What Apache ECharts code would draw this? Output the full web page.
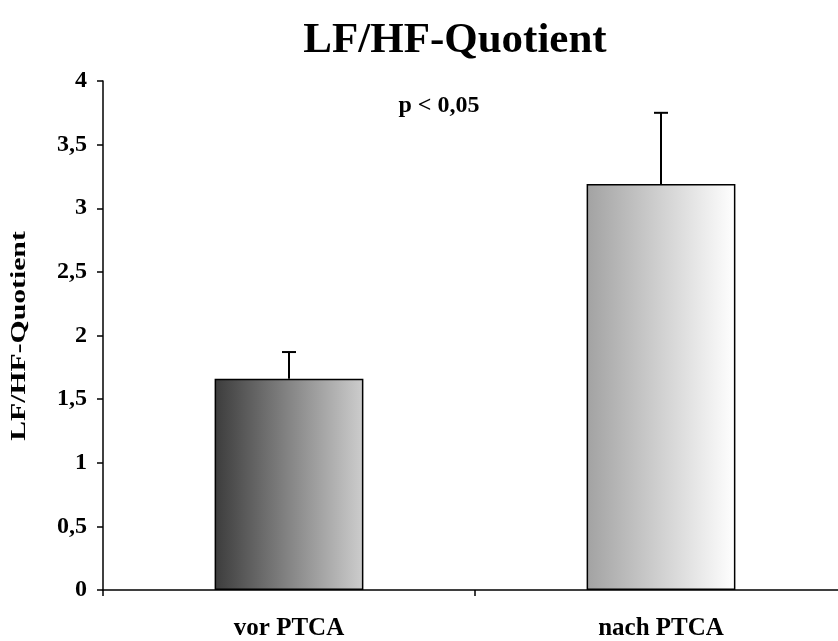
<!DOCTYPE html>
<html>
<head>
<meta charset="utf-8">
<script src="https://cdn.jsdelivr.net/npm/echarts@6/dist/echarts.min.js"></script>
<style>
  html, body { margin: 0; padding: 0; background: #ffffff; overflow: hidden; }
  /* the category axis runs slightly past the right edge of the window */
  #chart { width: 848px; height: 641px; }
</style>
</head>
<body>
<div id="chart"></div>
<script>
// Mean LF/HF ratio before and after PTCA, with the upper error bar
var categories = ['vor PTCA', 'nach PTCA'];
var means = [1.66, 3.19];
var errors = [0.21, 0.56];
var yTicks = [0, 0.5, 1, 1.5, 2, 2.5, 3, 3.5, 4];

// Horizontal grey shading for each bar
var barGradients = [
  ['#3c3c3c', '#cdcdcd'],
  ['#a2a2a2', '#ffffff']
];

var FONT = '"Liberation Serif", "Times New Roman", serif';

var chart = echarts.init(document.getElementById('chart'), null, { renderer: 'canvas' });

var barData = means.map(function (v, i) {
  return {
    value: v,
    itemStyle: {
      color: new echarts.graphic.LinearGradient(0, 0, 1, 0, [
        { offset: 0, color: barGradients[i][0] },
        { offset: 1, color: barGradients[i][1] }
      ]),
      borderColor: '#000000',
      borderWidth: 1.5
    }
  };
});

var errData = means.map(function (v, i) { return [i, v, v + errors[i]]; });

chart.setOption({
  animation: false,
  backgroundColor: '#ffffff',
  title: [
    {
      text: 'LF/HF-Quotient',
      left: 450,
      top: 14,
      textAlign: 'center',
      textStyle: { fontFamily: FONT, fontWeight: 'bold', fontSize: 43, color: '#000' }
    },
    {
      text: 'p < 0,05',
      left: 434,
      top: 89,
      textAlign: 'center',
      textStyle: { fontFamily: FONT, fontWeight: 'bold', fontSize: 24, color: '#000' }
    }
  ],
  // vertical axis title, stretched along its length
  graphic: [
    {
      type: 'text',
      x: 19,
      y: 336,
      rotation: Math.PI / 2,
      scaleX: 1.35,
      style: {
        text: 'LF/HF-Quotient',
        fill: '#000',
        font: 'bold 22px ' + FONT,
        align: 'center',
        verticalAlign: 'middle',
        textAlign: 'center',
        textVerticalAlign: 'middle'
      }
    }
  ],
  grid: { left: 103, right: 1, top: 81, bottom: 51, containLabel: false },
  xAxis: {
    type: 'category',
    data: categories,
    boundaryGap: true,
    axisLine: { lineStyle: { color: '#000', width: 1.5 } },
    axisTick: { show: true, length: 6, lineStyle: { color: '#000', width: 1.5 } },
    axisLabel: {
      margin: 26,
      fontFamily: FONT, fontWeight: 'bold', fontSize: 25, color: '#000'
    },
    splitLine: { show: false }
  },
  yAxis: {
    type: 'value',
    min: yTicks[0],
    max: yTicks[yTicks.length - 1],
    interval: yTicks[1] - yTicks[0],
    axisLine: { show: true, lineStyle: { color: '#000', width: 1.5 } },
    axisTick: { show: true, inside: false, length: 6, lineStyle: { color: '#000', width: 1.5 } },
    axisLabel: {
      margin: 16,
      fontFamily: FONT, fontWeight: 'bold', fontSize: 24, color: '#000',
      formatter: function (v) { return String(v).replace('.', ','); }
    },
    splitLine: { show: false }
  },
  series: [
    {
      type: 'bar',
      data: barData,
      barWidth: '40%',
      z: 2
    },
    {
      type: 'custom',
      data: errData,
      z: 3,
      renderItem: function (params, api) {
        var x = api.value(0);
        var base = api.coord([x, api.value(1)]);
        var top = api.coord([x, api.value(2)]);
        var half = 7;
        var style = { stroke: '#000', lineWidth: 2 };
        return {
          type: 'group',
          children: [
            { type: 'line', shape: { x1: base[0], y1: base[1], x2: top[0], y2: top[1] }, style: style },
            { type: 'line', shape: { x1: top[0] - half, y1: top[1], x2: top[0] + half, y2: top[1] }, style: style }
          ]
        };
      }
    }
  ]
});
</script>
</body>
</html>
